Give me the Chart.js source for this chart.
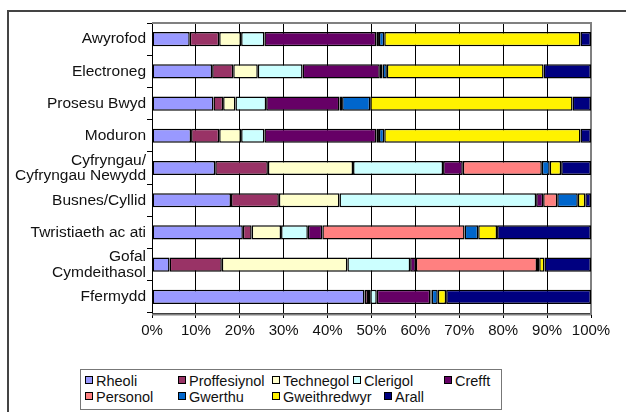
<!DOCTYPE html>
<html>
<head>
<meta charset="utf-8">
<script src="https://cdn.jsdelivr.net/npm/chart.js@4.4.0/dist/chart.umd.min.js"></script>
<style>
  body { margin: 0; background: #fff; }
  #wrap { position: relative; width: 626px; height: 412px; overflow: hidden; font-family: "Liberation Sans", Arial, sans-serif; }
  #frame { position: absolute; left: 7px; top: 10px; width: 640px; height: 420px; border-left: 2px solid #444; border-top: 2px solid #444; }
  canvas { position: absolute; left: 0; top: 0; }
  #legend { position: absolute; left: 80px; top: 369px; width: 420px; height: 39px; border: 1px solid #777; background: #fff; }
  .item { position: absolute; font-size: 14.5px; line-height: 15px; color: #111; white-space: nowrap; }
  .item i { display: inline-block; width: 6px; height: 6px; border: 1.5px solid #000; margin-right: 3px; vertical-align: 2px; }
</style>
</head>
<body>
<div id="wrap">
  <div id="frame"></div>
  <canvas id="myChart" width="626" height="412"></canvas>
  <div id="legend"></div>
</div>
<script>
// Sectorau (o'r top i'r gwaelod)
const categories = ['Awyrofod', 'Electroneg', 'Prosesu Bwyd', 'Moduron',
    ['Cyfryngau/', 'Cyfryngau Newydd'], 'Busnes/Cyllid', 'Twristiaeth ac ati',
    ['Gofal', 'Cymdeithasol'], 'Ffermydd'];

const seriesNames = ['Rheoli', 'Proffesiynol', 'Technegol', 'Clerigol', 'Crefft',
    'Personol', 'Gwerthu', 'Gweithredwyr', 'Arall'];

// canran pob galwedigaeth ym mhob sector
const rheoli       = [8.6, 13.7, 14.0, 8.9, 14.4, 18.0, 20.7, 4.0, 48.4];
const proffesiynol = [6.7, 4.8, 2.2, 6.4, 12.0, 10.9, 2.0, 11.9, 0.8];
const technegol    = [5.0, 5.6, 2.8, 5.0, 19.4, 13.8, 6.7, 28.6, 0.5];
const clerigol     = [5.3, 10.2, 7.0, 5.3, 20.5, 44.8, 6.1, 14.3, 1.5];
const crefft       = [25.5, 17.6, 16.7, 25.5, 4.5, 1.6, 3.3, 1.3, 12.2];
const personol     = [0.6, 0.6, 0.6, 0.6, 18.0, 3.2, 32.4, 27.6, 0.3];
const gwerthu      = [1.2, 1.0, 6.4, 1.2, 1.8, 4.7, 3.1, 0.5, 1.4];
const gweithredwyr = [44.7, 35.7, 46.1, 44.7, 2.6, 1.7, 4.3, 1.2, 1.9];
const arall        = [2.4, 10.8, 4.2, 2.4, 6.8, 1.3, 21.4, 10.6, 33.0];

const xTicks = [0, 10, 20, 30, 40, 50, 60, 70, 80, 90, 100];

const seriesData = [rheoli, proffesiynol, technegol, clerigol, crefft, personol, gwerthu, gweithredwyr, arall];
const colors = ['#9999FF', '#993366', '#FFFFCC', '#CCFFFF', '#660066', '#FF8080', '#0066CC', '#FFF200', '#000080'];

const font = { family: '"Liberation Sans", Arial, sans-serif', size: 15 };

// llinellau llwyd ar ben ac ochr dde'r ardal plotio
const plotBorder = {
    id: 'plotBorder',
    beforeDatasetsDraw(chart) {
        const a = chart.chartArea;
        const c = chart.ctx;
        c.save();
        c.strokeStyle = '#808080';
        c.lineWidth = 2;
        c.beginPath();
        c.moveTo(a.left, a.top);
        c.lineTo(a.right, a.top);
        c.lineTo(a.right, a.bottom + 2);
        c.moveTo(a.left, a.bottom + 1.5);
        c.lineTo(a.right, a.bottom + 1.5);
        c.stroke();
        c.restore();
    }
};

new Chart(document.getElementById('myChart'), {
    type: 'bar',
    data: {
        labels: categories,
        datasets: seriesNames.map((name, i) => ({
            label: name,
            data: seriesData[i],
            backgroundColor: colors[i],
            borderColor: '#000',
            borderWidth: 1.5,
            borderSkipped: false,
            barPercentage: 0.44,
            categoryPercentage: 1
        }))
    },
    options: {
        indexAxis: 'y',
        responsive: false,
        animation: false,
        layout: { padding: { top: 23, right: 35, left: 0, bottom: 0 } },
        scales: {
            x: {
                stacked: true,
                min: 0,
                max: 100,
                afterBuildTicks: (axis) => { axis.ticks = xTicks.map(v => ({ value: v })); },
                afterFit: (axis) => { axis.height = 99; },
                ticks: { callback: v => v + '%', color: '#111', font: font, padding: 4, maxRotation: 0 },
                grid: { color: '#000', lineWidth: 1, tickLength: 5 },
                border: { color: '#000', width: 1 }
            },
            y: {
                stacked: true,
                afterFit: (axis) => { axis.width = 152; },
                ticks: { color: '#111', autoSkip: false, font: { family: font.family, size: 15.5, lineHeight: 1.0 }, padding: 1 },
                grid: { offset: true, drawOnChartArea: false, color: '#000', tickLength: 5 },
                border: { color: '#000', width: 1 }
            }
        },
        plugins: {
            legend: { display: false },
            tooltip: { enabled: false }
        }
    },
    plugins: [plotBorder]
});

// Allwedd
const legendPos = [[4, 4], [97, 4], [191, 4], [272, 4], [363, 4],
                   [4, 20], [97, 20], [191, 20], [303, 20]];
const legend = document.getElementById('legend');
legend.innerHTML = seriesNames.map((name, i) => `
    <div class="item" style="left:${legendPos[i][0]}px;top:${legendPos[i][1]}px">
        <i style="background:${colors[i]}"></i>${name}
    </div>`).join('');
</script>
</body>
</html>
